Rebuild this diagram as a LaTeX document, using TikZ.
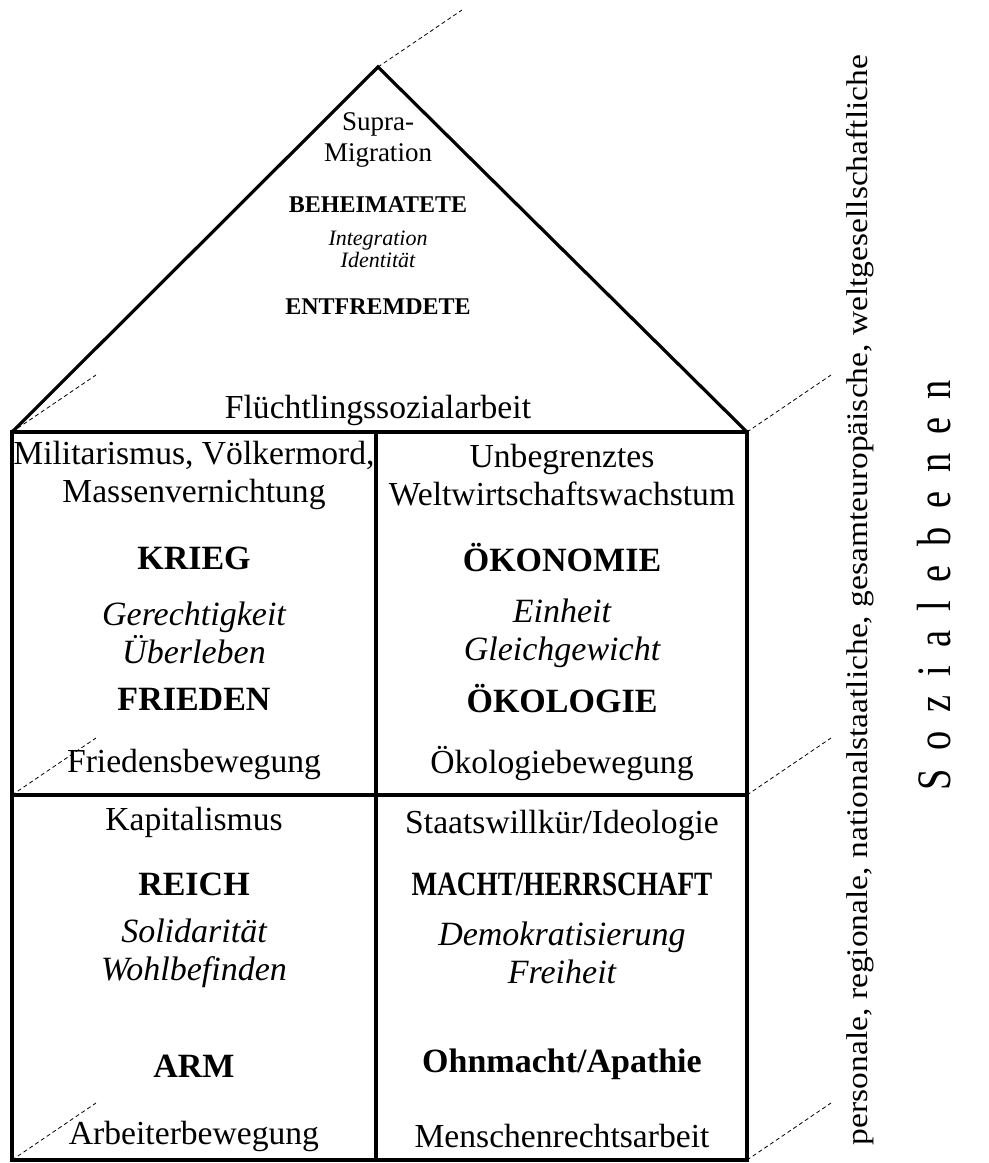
\documentclass[tikz,border=0pt]{standalone}
\usepackage{fontspec}
\setmainfont{Liberation Serif}
\newfontfamily\narrowfont[FakeStretch=0.8]{Liberation Serif}
\usepackage{graphicx}
\usetikzlibrary{positioning}

\tikzset{
  wall/.style={line width=1.6pt, line join=miter},
  depth/.style={line width=0.4pt, dash pattern=on 2pt off 1.5pt},
  boxtxt/.style={font=\fontsize{16.8}{19}\selectfont, align=center, inner sep=0pt},
  boxkey/.style={font=\fontsize{17}{19}\selectfont\bfseries, inner sep=0pt},
  boxval/.style={font=\fontsize{17}{19}\selectfont\itshape, align=center, inner sep=0pt},
  rooftxt/.style={font=\fontsize{13.5}{15.5}\selectfont, align=center, inner sep=0pt},
  roofkey/.style={font=\fontsize{12}{12}\selectfont\bfseries, inner sep=0pt},
  roofval/.style={font=\fontsize{11}{9.5}\selectfont\itshape, align=center, inner sep=0pt},
  sidetxt/.style={font=\fontsize{15}{15}\selectfont, rotate=90, inner sep=0pt}
}

\begin{document}
\begin{tikzpicture}[x=0.5pt, y=-0.5pt]
  \useasboundingbox (0,0) rectangle (989,1163);
  % corners of the house
  \coordinate (apex) at (378,67);
  \coordinate (rl) at (12,432);
  \coordinate (rr) at (747,432);
  \coordinate (tm) at (376,432);
  \coordinate (ml) at (12,795);
  \coordinate (mr) at (747,795);
  \coordinate (bl) at (12,1160);
  \coordinate (bm) at (376,1160);
  \coordinate (br) at (747,1160);

  % depth lines
  \foreach \c in {apex,rl,rr,ml,mr,bl,br}
    \draw[depth] (\c) -- ++(84,-57);

  % walls and roof
  \draw[wall] (rl) -- (apex) -- (rr);
  \draw[wall] (rl) rectangle (br);
  \draw[wall] (ml) -- (mr);
  \draw[wall] (tm) -- (bm);

  % roof
  \node[rooftxt] (supra) at (378,140) {Supra-\\Migration};
  \node[roofkey] (beheimatete) at (378,205) {BEHEIMATETE};
  \node[roofval] (integr) at (378,249) {Integration\\Identität};
  \node[roofkey] (entfremdete) at (378,307) {ENTFREMDETE};
  \node[boxtxt] (fluecht) at (378,410) {Flüchtlingssozialarbeit};

  % upper left
  \node[boxtxt] (milit) at (194,475) {Militarismus, Völkermord,\\Massenvernichtung};
  \node[boxkey] (krieg) at (194,558) {KRIEG};
  \node[boxval] (gerecht) at (194,633) {Gerechtigkeit\\Überleben};
  \node[boxkey] (frieden) at (194,699) {FRIEDEN};
  \node[boxtxt] (friedbew) at (194,764) {Friedensbewegung};

  % upper right
  \node[boxtxt] (wachstum) at (562,475) {Unbegrenztes\\Weltwirtschaftswachstum};
  \node[boxkey] (oekonomie) at (562,558) {ÖKONOMIE};
  \node[boxval] (einheit) at (562,633) {Einheit\\Gleichgewicht};
  \node[boxkey] (oekologie) at (562,699) {ÖKOLOGIE};
  \node[boxtxt] (oekobew) at (562,764) {Ökologiebewegung};

  % lower left
  \node[boxtxt] (kapital) at (194,822) {Kapitalismus};
  \node[boxkey] (reich) at (194,884) {REICH};
  \node[boxval] (solid) at (194,953) {Solidarität\\Wohlbefinden};
  \node[boxkey] (arm) at (194,1066) {ARM};
  \node[boxtxt] (arbeit) at (194,1136) {Arbeiterbewegung};

  % lower right
  \node[boxtxt] (staat) at (562,825) {Staatswillkür/Ideologie};
  \node[boxkey] (macht) at (562,884) {\scalebox{0.8}[1]{MACHT/HERRSCHAFT}};
  \node[boxval] (demokr) at (562,953) {Demokratisierung\\Freiheit};
  \node[boxkey] (ohnmacht) at (562,1064) {Ohnmacht/Apathie};
  \node[boxtxt] (menschen) at (562,1136) {Menschenrechtsarbeit};

  % social levels
  \node[sidetxt] (levels) at (860,600)
    {\resizebox{545pt}{\height}{personale, regionale, nationalstaatliche, gesamteuropäische, weltgesellschaftliche}};
  \node[sidetxt] (sozial) at (934,585)
    {\makebox[205pt][s]{\narrowfont\fontsize{24}{24}\selectfont S o z i a l e b e n e n}};
\end{tikzpicture}
\end{document}
